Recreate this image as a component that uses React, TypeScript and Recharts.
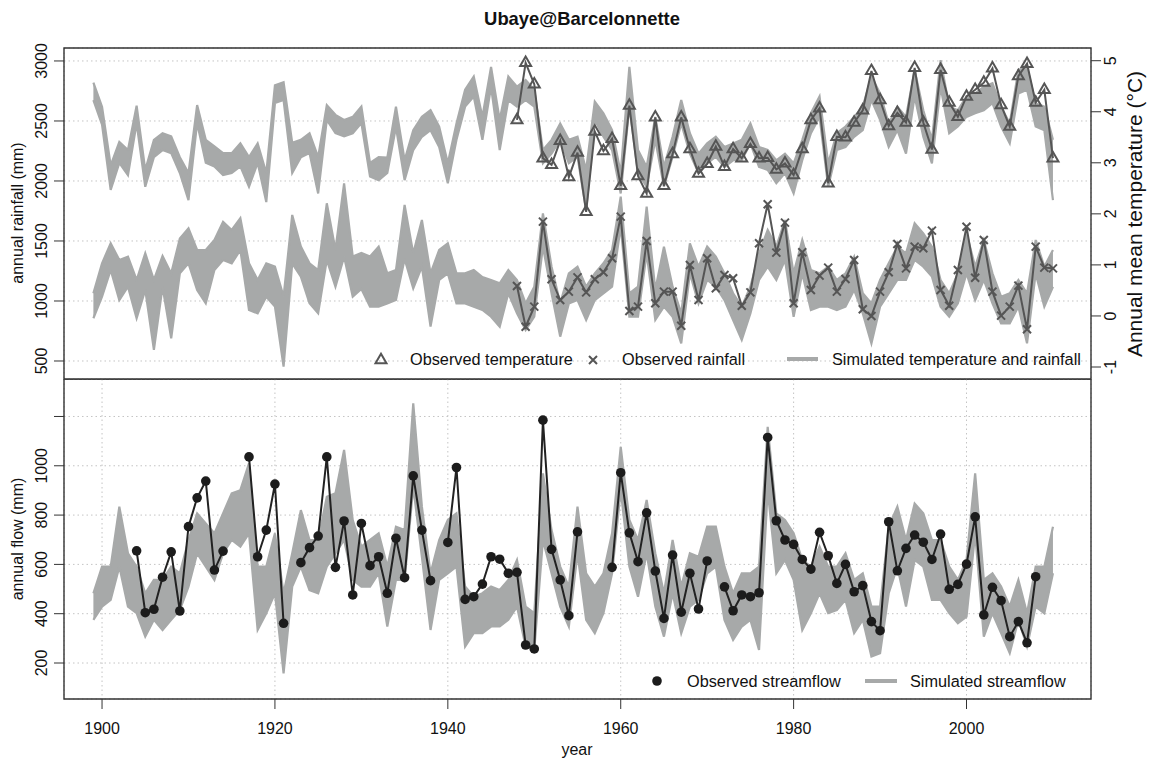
import { ComposedChart, Area, Line, XAxis, YAxis, CartesianGrid, ReferenceArea } from 'recharts';

const FIRST_YEAR = 1899;
const OBS_START = 1948;
const years = Array.from({ length: 112 }, (_, i) => FIRST_YEAR + i);

const xTicks = [1900, 1920, 1940, 1960, 1980, 2000];
const rainTicks = [500, 1000, 1500, 2000, 2500, 3000];
const tempTicks = [-1, 0, 1, 2, 3, 4, 5];
const flowTicks = [200, 400, 600, 800, 1000, 1200];

// simulated ensemble envelopes, 1899-2010
const tempSimLow = [
  4.23, 3.75, 2.47, 3.0, 2.76, 3.78, 2.53, 3.11, 3.25, 3.19,
  2.8, 2.27, 3.78, 3.0, 2.93, 2.76, 2.8, 2.93, 2.53, 3.0,
  2.23, 4.17, 4.23, 2.8, 3.11, 3.19, 2.4, 3.84, 3.58, 3.52,
  3.58, 3.78, 2.73, 2.66, 2.8, 3.7, 2.66, 3.25, 3.51, 3.64,
  3.31, 2.6, 3.45, 4.1, 4.3, 3.45, 4.49, 3.25, 4.23, 4.1,
  4.23, 4.1, 2.99, 3.18, 3.45, 2.99, 3.12, 2.07, 3.84, 3.51,
  3.25, 2.4, 4.1, 2.8, 2.53, 3.45, 2.53, 3.12, 3.77, 3.18,
  2.8, 2.99, 3.12, 2.92, 3.05, 3.05, 3.38, 2.92, 2.86, 2.6,
  2.8, 2.4, 3.05, 3.58, 3.9, 2.53, 3.25, 3.31, 3.51, 3.64,
  4.23, 3.84, 3.31, 3.64, 3.18, 4.3, 3.51, 2.99, 4.49, 3.58,
  3.71, 3.9, 3.97, 4.03, 4.17, 3.71, 3.38, 4.36, 4.43, 3.71,
  3.64, 2.27,
];
const tempSimHigh = [
  4.57, 4.1, 2.95, 3.41, 3.25, 4.12, 2.86, 3.45, 3.58, 3.52,
  3.11, 2.8, 4.13, 3.45, 3.32, 3.19, 3.19, 3.38, 3.11, 3.38,
  2.8, 4.52, 4.58, 3.39, 3.45, 3.58, 3.11, 4.13, 3.94, 3.84,
  3.9, 4.1, 3.0, 3.11, 3.1, 4.1, 3.05, 3.64, 3.9, 4.03,
  3.71, 2.99, 3.77, 4.43, 4.69, 3.9, 4.88, 3.84, 4.69, 4.49,
  4.62, 4.43, 3.25, 3.45, 3.77, 3.45, 3.51, 2.86, 4.2, 3.97,
  3.64, 2.8, 4.88, 3.25, 2.92, 3.9, 2.92, 3.51, 4.23, 3.58,
  3.18, 3.38, 3.51, 3.31, 3.38, 3.45, 3.77, 3.31, 3.25, 3.05,
  3.18, 2.99, 3.45, 3.97, 4.3, 2.99, 3.58, 3.71, 3.9, 4.1,
  4.69, 4.36, 3.77, 4.1, 3.9, 4.82, 4.03, 3.45, 5.01, 4.1,
  4.03, 4.3, 4.36, 4.49, 4.56, 4.1, 3.77, 4.82, 4.88, 4.16,
  4.1, 3.45,
];
const rainSimLow = [
  856, 1036, 1258, 1008, 1119, 856, 1092, 592, 1119, 689,
  1231, 1314, 1092, 981, 1258, 1342, 1314, 1425, 925, 897,
  1036, 953, 453, 1314, 1203, 981, 897, 1342, 1119, 1370,
  1036, 1100, 953, 953, 980, 1008, 1350, 1105, 1286, 786,
  1175, 1230, 980, 980, 953, 925, 869, 786, 1064, 897,
  758, 869, 1453, 1064, 703, 980, 1008, 842, 1008, 1064,
  1119, 1620, 869, 869, 1397, 842, 953, 869, 647, 1230,
  980, 1175, 1119, 1008, 842, 675, 897, 1175, 1286, 1175,
  1342, 869, 1230, 925, 953, 953, 925, 953, 1092, 897,
  647, 953, 1064, 1175, 1175, 1342, 1286, 1203, 953, 869,
  980, 1230, 1008, 1175, 980, 814, 814, 953, 647, 1230,
  953, 1119,
];
const rainSimHigh = [
  1064, 1314, 1481, 1342, 1370, 1175, 1398, 1175, 1375, 1230,
  1520, 1605, 1425, 1425, 1509, 1660, 1592, 1690, 1314, 1175,
  1314, 1286, 1036, 1717, 1453, 1314, 1258, 1814, 1425, 1980,
  1370, 1400, 1370, 1453, 1230, 1258, 1800, 1397, 1675, 1230,
  1425, 1480, 1230, 1230, 1258, 1200, 1175, 1147, 1258, 1175,
  980, 1119, 1730, 1286, 980, 1230, 1286, 1119, 1230, 1314,
  1425, 1870, 1064, 1119, 1786, 1092, 1453, 1119, 897, 1480,
  1286, 1453, 1370, 1230, 1064, 953, 1119, 1397, 1592, 1453,
  1675, 1230, 1508, 1258, 1230, 1286, 1175, 1230, 1369, 1064,
  980, 1175, 1314, 1453, 1397, 1647, 1564, 1453, 1175, 1064,
  1230, 1564, 1286, 1508, 1230, 1036, 1064, 1175, 1064, 1508,
  1286, 1425,
];
const flowSimLow = [
  375, 429, 456, 591, 429, 402, 307, 375, 334, 375,
  415, 510, 645, 591, 537, 645, 699, 672, 726, 334,
  402, 483, 158, 510, 591, 496, 483, 591, 645, 699,
  537, 510, 510, 564, 348, 537, 537, 915, 631, 334,
  537, 564, 591, 267, 321, 321, 348, 348, 375, 429,
  267, 253, 699, 564, 429, 348, 645, 375, 321, 402,
  564, 901, 591, 469, 645, 429, 307, 483, 321, 429,
  456, 564, 591, 375, 294, 348, 375, 253, 901, 564,
  618, 537, 334, 402, 483, 402, 415, 456, 321, 375,
  226, 240, 483, 591, 429, 618, 591, 456, 456, 402,
  361, 388, 726, 307, 402, 321, 240, 375, 267, 429,
  402, 564,
];
const flowSimHigh = [
  483, 591, 591, 834, 645, 591, 483, 537, 537, 591,
  564, 699, 807, 766, 726, 807, 888, 901, 1010, 591,
  591, 726, 483, 645, 820, 699, 699, 874, 888, 1064,
  780, 672, 699, 726, 591, 753, 739, 1253, 834, 564,
  699, 780, 807, 510, 469, 483, 510, 496, 537, 618,
  429, 402, 969, 739, 591, 510, 834, 564, 510, 564,
  726, 1077, 780, 699, 861, 645, 483, 699, 510, 645,
  631, 753, 753, 591, 483, 564, 564, 591, 1158, 807,
  780, 726, 618, 591, 672, 591, 591, 645, 537, 564,
  429, 429, 753, 834, 699, 847, 807, 699, 699, 591,
  537, 618, 969, 537, 564, 510, 429, 537, 402, 591,
  591, 753,
];

// observations, 1948-2010
const tempObs = [
  3.84, 4.96, 4.54, 3.09, 2.96, 3.43, 2.72, 3.2, 2.04, 3.61,
  3.23, 3.47, 2.55, 4.12, 2.74, 2.4, 3.89, 2.55, 3.17, 3.89,
  3.27, 2.79, 2.98, 3.32, 2.92, 3.27, 3.09, 3.37, 3.09, 3.1,
  2.87, 2.99, 2.76, 3.27, 3.84, 4.07, 2.6, 3.51, 3.5, 3.79,
  4.03, 4.8, 4.23, 3.72, 3.98, 3.79, 4.86, 3.79, 3.26, 4.82,
  4.18, 3.9, 4.3, 4.43, 4.57, 4.85, 4.13, 3.71, 4.7, 4.94,
  4.18, 4.43, 3.09,
];
const rainObs = [
  1125, 786, 953, 1661, 1181, 1008, 1078, 1197, 1072, 1181,
  1239, 1356, 1703, 917, 953, 1500, 981, 1078, 1078, 794,
  1300, 1008, 1356, 1106, 1217, 1189, 961, 1072, 1481, 1806,
  1403, 1653, 981, 1406, 1092, 1211, 1278, 1078, 1183, 1342,
  931, 875, 1078, 1239, 1475, 1272, 1453, 1439, 1586, 1092,
  961, 1258, 1619, 1194, 1508, 1078, 878, 953, 1128, 764,
  1453, 1278, 1272,
];
// observed streamflow, 1899-2010 (null = no record)
const flowObs = [
  null, null, null, null, null, 655, 404, 418, 548, 651,
  411, 753, 870, 938, 577, 654, null, null, 1036, 631,
  739, 926, 361, null, 607, 668, 715, 1036, 588, 776,
  476, 766, 595, 631, 483, 706, 546, 959, 739, 534,
  null, 689, 993, 458, 469, 520, 631, 621, 564, 568,
  273, 257, 1185, 661, 537, 392, 732, null, null, null,
  588, 972, 728, 611, 809, 573, 381, 638, 406, 564,
  419, 614, null, 509, 412, 476, 469, 485, 1115, 777,
  699, 681, 620, 581, 730, 635, 523, 600, 489, 514,
  368, 331, 773, 574, 665, 719, 690, 620, 723, 499,
  519, 601, 793, 395, 507, 453, 307, 368, 282, 550,
  null, null,
];

const rows = years.map((year, i) => ({
  year,
  tSim: [tempSimLow[i], tempSimHigh[i]],
  rSim: [rainSimLow[i], rainSimHigh[i]],
  fSim: [flowSimLow[i], flowSimHigh[i]],
  tObs: year >= OBS_START ? tempObs[year - OBS_START] : null,
  rObs: year >= OBS_START ? rainObs[year - OBS_START] : null,
  fObs: flowObs[i],
}));

const X_DOMAIN: [number, number] = [1895.6, 2014.4];
const RAIN_DOMAIN: [number, number] = [350, 3108];
const TEMP_DOMAIN: [number, number] = [-1.235, 5.249];
const FLOW_DOMAIN: [number, number] = [54, 1352];

const SIM = '#a7a9a9';
const OBS = '#555555';
const FRAME = '#333333';
const GRID = '#c4c4c4';
const FONT = '"Liberation Sans", Arial, Helvetica, sans-serif';

const leftTick = (props: any) => {
  const { y, payload } = props;
  if (payload.value === 1200) return <g />;
  return (
    <text x={47} y={y} transform={`rotate(-90 47 ${y})`} textAnchor="middle" fontSize={16} fill="#111">
      {payload.value}
    </text>
  );
};

const rightTick = (props: any) => {
  const { y, payload } = props;
  return (
    <text x={1116} y={y} transform={`rotate(-90 1116 ${y})`} textAnchor="middle" fontSize={16} fill="#111">
      {payload.value}
    </text>
  );
};

const bottomTick = (props: any) => {
  const { x, payload } = props;
  return (
    <text x={x} y={355} textAnchor="middle" fontSize={16} fill="#111">
      {payload.value}
    </text>
  );
};

const triangle = (cx: number, cy: number, key?: any) => (
  <path
    key={key}
    d={`M${cx},${cy - 6.3} L${cx + 5.5},${cy + 3.2} L${cx - 5.5},${cy + 3.2} Z`}
    fill="none"
    stroke={OBS}
    strokeWidth={2}
  />
);

const cross = (cx: number, cy: number, key?: any) => (
  <path
    key={key}
    d={`M${cx - 4},${cy - 4} L${cx + 4},${cy + 4} M${cx - 4},${cy + 4} L${cx + 4},${cy - 4}`}
    stroke={OBS}
    strokeWidth={2}
  />
);

const triangleDot = (p: any) => {
  if (p.cx == null || p.cy == null || p.value == null) return <g key={p.index} />;
  return triangle(p.cx, p.cy, p.index);
};

const crossDot = (p: any) => {
  if (p.cx == null || p.cy == null || p.value == null) return <g key={p.index} />;
  return cross(p.cx, p.cy, p.index);
};

const flowDot = (p: any) => {
  if (p.cx == null || p.cy == null || p.value == null) return <g key={p.index} />;
  return <circle key={p.index} cx={p.cx} cy={p.cy} r={4.8} fill="#1c1c1c" />;
};

const TopPanel = () => (
  <ComposedChart width={1152} height={380} data={rows} margin={{ top: 48, right: 0, bottom: 0, left: 0 }}>
    <CartesianGrid yAxisId="rain" stroke={GRID} strokeDasharray="1.5 3" />
    <XAxis
      dataKey="year"
      type="number"
      domain={X_DOMAIN}
      ticks={xTicks}
      allowDataOverflow
      height={1}
      tick={false}
      tickLine={false}
      axisLine={false}
    />
    <YAxis
      yAxisId="rain"
      domain={RAIN_DOMAIN}
      ticks={rainTicks}
      allowDataOverflow
      width={64}
      tickSize={10}
      tickLine={{ stroke: FRAME }}
      axisLine={false}
      tick={leftTick}
    />
    <YAxis
      yAxisId="temp"
      orientation="right"
      domain={TEMP_DOMAIN}
      ticks={tempTicks}
      allowDataOverflow
      width={61}
      tickSize={10}
      tickLine={{ stroke: FRAME }}
      axisLine={false}
      tick={rightTick}
    />
    <Area yAxisId="temp" dataKey="tSim" type="linear" stroke={SIM} strokeWidth={2.2} fill={SIM} fillOpacity={1} dot={false} activeDot={false} isAnimationActive={false} />
    <Area yAxisId="rain" dataKey="rSim" type="linear" stroke={SIM} strokeWidth={2.2} fill={SIM} fillOpacity={1} dot={false} activeDot={false} isAnimationActive={false} />
    <Line yAxisId="temp" dataKey="tObs" type="linear" stroke={OBS} strokeWidth={2} dot={triangleDot} activeDot={false} isAnimationActive={false} />
    <Line yAxisId="rain" dataKey="rObs" type="linear" stroke={OBS} strokeWidth={2} dot={crossDot} activeDot={false} isAnimationActive={false} />
    <ReferenceArea
      yAxisId="rain"
      x1={X_DOMAIN[0]}
      x2={X_DOMAIN[1]}
      y1={RAIN_DOMAIN[0]}
      y2={RAIN_DOMAIN[1]}
      fill="none"
      stroke={FRAME}
      strokeWidth={1.4}
      ifOverflow="visible"
    />
  </ComposedChart>
);

const BottomPanel = () => (
  <ComposedChart width={1152} height={381} data={rows} margin={{ top: 0, right: 61, bottom: 0, left: 0 }}>
    <CartesianGrid stroke={GRID} strokeDasharray="1.5 3" />
    <XAxis
      dataKey="year"
      type="number"
      domain={X_DOMAIN}
      ticks={xTicks}
      allowDataOverflow
      height={61}
      tickSize={10}
      tickLine={{ stroke: FRAME }}
      axisLine={false}
      tick={bottomTick}
    />
    <YAxis
      domain={FLOW_DOMAIN}
      ticks={flowTicks}
      allowDataOverflow
      width={64}
      tickSize={10}
      tickLine={{ stroke: FRAME }}
      axisLine={false}
      tick={leftTick}
    />
    <Area dataKey="fSim" type="linear" stroke={SIM} strokeWidth={2.2} fill={SIM} fillOpacity={1} dot={false} activeDot={false} isAnimationActive={false} />
    <Line dataKey="fObs" type="linear" stroke="#222" strokeWidth={2} dot={flowDot} activeDot={false} isAnimationActive={false} />
    <ReferenceArea
      x1={X_DOMAIN[0]}
      x2={X_DOMAIN[1]}
      y1={FLOW_DOMAIN[0]}
      y2={FLOW_DOMAIN[1]}
      fill="none"
      stroke={FRAME}
      strokeWidth={1.4}
      ifOverflow="visible"
    />
  </ComposedChart>
);

const Labels = () => (
  <svg width={1152} height={760} style={{ position: 'absolute', left: 0, top: 0, pointerEvents: 'none' }}>
    <text x={582} y={25} textAnchor="middle" fontSize={18.4} fontWeight="bold" fill="#111">
      Ubaye@Barcelonnette
    </text>
    <text x={23} y={213} transform="rotate(-90 23 213)" textAnchor="middle" fontSize={16} fill="#111">
      annual rainfall (mm)
    </text>
    <text x={1142} y={214} transform="rotate(-90 1142 214)" textAnchor="middle" fontSize={21} fill="#111">
      Annual mean temperature (°C)
    </text>
    <text x={23} y={539} transform="rotate(-90 23 539)" textAnchor="middle" fontSize={16} fill="#111">
      annual flow (mm)
    </text>
    <text x={577} y={755} textAnchor="middle" fontSize={16} fill="#111">
      year
    </text>

    {triangle(381, 360)}
    <text x={410} y={365} fontSize={16.3} fill="#111">Observed temperature</text>
    {cross(593, 360)}
    <text x={622} y={365} fontSize={16.3} fill="#111">Observed rainfall</text>
    <line x1={787} x2={818} y1={359} y2={359} stroke={SIM} strokeWidth={4} />
    <text x={832} y={365} fontSize={16.3} fill="#111">Simulated temperature and rainfall</text>

    <circle cx={657} cy={681} r={4.8} fill="#1c1c1c" />
    <text x={687} y={687} fontSize={16.3} fill="#111">Observed streamflow</text>
    <line x1={865} x2={897} y1={681} y2={681} stroke={SIM} strokeWidth={4} />
    <text x={910} y={687} fontSize={16.3} fill="#111">Simulated streamflow</text>
  </svg>
);

const App = () => (
  <div
    style={{
      position: 'absolute',
      left: 0,
      top: 0,
      width: 1152,
      height: 760,
      overflow: 'hidden',
      background: '#fff',
      fontFamily: FONT,
    }}
  >
    <div style={{ position: 'absolute', left: 0, top: 0 }}>
      <TopPanel />
    </div>
    <div style={{ position: 'absolute', left: 0, top: 379 }}>
      <BottomPanel />
    </div>
    <Labels />
  </div>
);

export default App;
